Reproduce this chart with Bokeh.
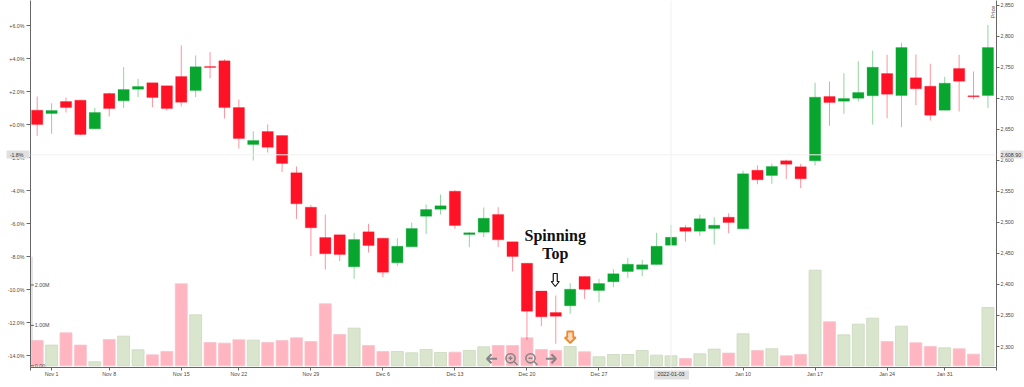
import math
from bokeh.embed import file_html
from bokeh.resources import INLINE
from bokeh.plotting import figure
from bokeh.models import ColumnDataSource, FixedTicker, Label, LinearAxis, Range1d, Span
from bokeh.core.properties import value

# --- data (price scale on the right, volume in millions) ---
opens = [2680.9,2675.5,2694.8,2697.0,2650.8,2707.7,2695.9,2714.7,2724.9,2720.1,2735.1,2712.5,2751.2,2760.3,2685.1,
         2625.5,2646.5,2640.0,2579.9,2524.5,2475.7,2480.0,2428.4,2484.8,2474.6,2434.9,2460.6,2510.0,2521.3,2550.3,
         2480.5,2484.3,2512.7,2468.7,2434.3,2389.5,2354.8,2365.6,2412.8,2390.3,2404.3,2420.9,2424.6,2432.2,2463.3,
         2491.8,2485.8,2490.2,2508.4,2489.7,2584.0,2575.6,2599.3,2589.6,2599.3,2702.9,2695.3,2700.1,2704.0,2739.9,
         2704.5,2733.0,2719.5,2680.8,2748.0,2704.0,2704.5]
closes = [2657.7,2680.3,2685.1,2641.6,2677.1,2683.5,2714.2,2719.0,2701.3,2683.5,2693.7,2750.7,2749.6,2685.1,2635.2,
          2632.0,2621.2,2594.9,2530.0,2491.3,2449.4,2448.3,2472.4,2462.8,2419.8,2461.7,2490.2,2520.8,2526.7,2495.0,
          2483.2,2506.8,2471.9,2445.1,2356.9,2347.9,2348.9,2392.4,2392.4,2401.5,2417.2,2432.6,2431.7,2461.6,2476.1,
          2485.8,2505.8,2495.5,2499.8,2578.3,2568.6,2590.1,2593.8,2570.3,2701.8,2693.2,2699.7,2709.3,2750.1,2706.6,
          2781.8,2715.3,2672.7,2724.3,2727.5,2702.4,2781.8]
highs = [2702.9,2692.1,2701.3,2697.0,2684.6,2709.3,2750.1,2731.4,2724.9,2720.1,2785.1,2769.0,2774.3,2763.0,2698.0,
         2647.0,2657.8,2640.0,2590.1,2528.4,2512.7,2480.0,2483.2,2497.7,2474.6,2474.6,2499.8,2528.8,2545.0,2551.9,
         2484.3,2524.0,2524.6,2468.7,2434.3,2389.5,2382.2,2402.0,2412.8,2409.1,2424.6,2443.0,2439.7,2483.2,2496.1,
         2495.5,2512.7,2508.4,2514.8,2583.6,2591.7,2594.9,2600.9,2594.4,2725.0,2727.0,2740.4,2759.8,2777.0,2770.1,
         2789.4,2770.5,2755.6,2734.6,2770.1,2743.2,2818.4]
lows = [2639.5,2642.7,2677.1,2640.6,2650.8,2670.7,2684.1,2701.8,2685.7,2680.3,2686.8,2701.8,2732.4,2667.4,2619.1,
        2599.7,2612.6,2581.0,2505.8,2445.6,2424.1,2437.5,2409.1,2451.5,2411.8,2429.5,2460.6,2481.6,2512.7,2489.6,
        2460.1,2476.2,2460.1,2420.9,2310.8,2332.7,2304.4,2352.7,2376.9,2371.4,2395.6,2410.7,2413.3,2432.2,2463.3,
        2469.2,2478.4,2464.4,2482.6,2489.7,2561.6,2562.2,2570.3,2555.1,2591.7,2655.7,2675.0,2694.8,2657.8,2667.9,
        2653.4,2688.9,2664.2,2680.8,2678.7,2698.0,2684.0]
volumes = [0.627,0.512,0.817,0.512,0.099,0.652,0.734,0.396,0.272,0.355,2.03,1.262,0.578,0.561,0.644,0.635,0.578,
           0.627,0.693,0.602,1.535,0.776,0.932,0.503,0.355,0.355,0.322,0.404,0.33,0.338,0.38,0.47,0.503,0.503,
           0.693,0.404,0.38,0.479,0.347,0.223,0.28,0.28,0.38,0.264,0.248,0.182,0.297,0.413,0.314,0.792,0.38,0.421,
           0.248,0.281,2.368,1.089,0.767,1.031,1.18,0.602,0.982,0.569,0.479,0.446,0.421,0.289,1.444]
date_ticks = [1, 5, 10, 14, 19, 24, 29, 34, 39, 49, 54, 59, 63]
date_labels = ["Nov 1", "Nov 8", "Nov 15", "Nov 22", "Nov 29", "Dec 6", "Dec 13", "Dec 20", "Dec 27",
               "Jan 10", "Jan 17", "Jan 24", "Jan 31"]
crosshair_index = 44
crosshair_date = "2022-01-03"
crosshair_price = 2608.9
crosshair_price_label = "2,608.90"
crosshair_pct = -1.818
crosshair_pct_label = "-1.8%"
price_ticks = [2300, 2350, 2400, 2450, 2500, 2550, 2600, 2650, 2700, 2750, 2800, 2850]
price_labels = ["2,300", "2,350", "2,400", "2,450", "2,500", "2,550", "2,600", "2,650", "2,700", "2,750", "2,800", "2,850"]
pct_ticks = [-14, -12, -10, -8, -6, -4, -2, 0, 2, 4, 6]
pct_labels = ["-14.0%", "-12.0%", "-10.0%", "-8.0%", "-6.0%", "-4.0%", "-2.0%", "+0.0%", "+2.0%", "+4.0%", "+6.0%"]
vol_ticks = [0, 1, 2]
vol_labels = ["0.00", "1.00M", "2.00M"]

RED, GREEN = "#fe1226", "#08a52f"
PINK, SAGE = "#ffb6c1", "#d9e5cd"
AXIS = "#666666"
TEXT = "#4a4a4a"
FONT = "Liberation Sans"
TICK_SIZE = "5.3px"
TAG = "#e0e0e0"

X0, X1 = -0.465, 66.595
p = figure(width=1024, height=387, output_backend="svg", toolbar_location=None,
           x_range=Range1d(X0, X1), y_range=Range1d(2266.2, 2857.57), y_axis_location="right",
           min_border_left=30, min_border_right=27, min_border_top=0, min_border_bottom=20,
           background_fill_color="white", border_fill_color="white", outline_line_color=None)
p.grid.visible = False
p.extra_y_ranges["pct"] = Range1d(-14.709, 7.533)
p.extra_y_ranges["vol"] = Range1d(-0.042, 9.042)
# overlay scales in reference page pixels, for the annotations only
p.extra_x_ranges["page"] = Range1d(30, 997)
p.extra_y_ranges["page"] = Range1d(367, 0)


def style_axis(ax):
    ax.axis_line_color = AXIS
    ax.major_tick_line_color = AXIS
    ax.minor_tick_line_color = None
    ax.major_tick_in = 0
    ax.major_tick_out = 4
    ax.major_label_text_font = FONT
    ax.major_label_text_font_size = TICK_SIZE
    ax.major_label_text_color = TEXT
    ax.major_label_standoff = 2


def tag_axis(ax, width, tick_in, tick_out, standoff):
    """The crosshair's value tag: an axis with a single, very thick tick as its box."""
    style_axis(ax)
    ax.axis_line_color = None
    ax.major_tick_line_color = TAG
    ax.major_tick_line_width = width
    ax.major_tick_in = tick_in
    ax.major_tick_out = tick_out
    ax.major_label_standoff = standoff
    ax.major_label_text_color = "#333333"


right = p.yaxis[0]
right.ticker = FixedTicker(ticks=price_ticks)
right.major_label_overrides = dict(zip(price_ticks, price_labels))
style_axis(right)
right.major_tick_out = 3
right.major_label_standoff = 1

left = LinearAxis(y_range_name="pct", ticker=FixedTicker(ticks=pct_ticks),
                  major_label_overrides=dict(zip(pct_ticks, pct_labels)))
style_axis(left)
p.add_layout(left, "left")

bottom = p.xaxis[0]
bottom.ticker = FixedTicker(ticks=[X0] + date_ticks + [X1])
bottom.major_label_overrides = {**dict(zip(date_ticks, date_labels)), X0: "", X1: ""}
style_axis(bottom)
bottom.major_tick_out = 3
bottom.major_label_standoff = 0

left_tag = LinearAxis(y_range_name="pct", ticker=FixedTicker(ticks=[crosshair_pct]),
                      major_label_overrides={crosshair_pct: crosshair_pct_label})
tag_axis(left_tag, 8, 25, -2, -19)
p.add_layout(left_tag, "left")

right_tag = LinearAxis(ticker=FixedTicker(ticks=[crosshair_price]),
                       major_label_overrides={crosshair_price: crosshair_price_label})
tag_axis(right_tag, 8, 16, 7, -23)
p.add_layout(right_tag, "right")

bottom_tag = LinearAxis(ticker=FixedTicker(ticks=[crosshair_index]),
                        major_label_overrides={crosshair_index: crosshair_date})
tag_axis(bottom_tag, 35, 9, 0, -8)
p.add_layout(bottom_tag, "below")

n = range(len(opens))
src = ColumnDataSource(dict(
    x=list(n), open=opens, close=closes, high=highs, low=lows, vol=volumes,
    body=[GREEN if c >= o else RED for o, c in zip(opens, closes)],
    bar=[SAGE if c >= o else PINK for o, c in zip(opens, closes)],
    edge=["#cbd8bd" if c >= o else "#f7c3cb" for o, c in zip(opens, closes)],
))

# crosshair
for dim, loc in (("width", crosshair_price), ("height", crosshair_index)):
    p.add_layout(Span(location=loc, dimension=dim, line_color="#f1f1f1", line_width=1))

# volume strip and bars
p.quad(left=[30], right=[32.5], bottom=[0], top=[2.7], x_range_name="page", y_range_name="vol",
       fill_color="#e4e4e4", line_color=None)
p.vbar(x="x", width=0.83, bottom=0, top="vol", source=src, y_range_name="vol",
       fill_color="bar", line_color="edge", line_width=0.8)

# candles
p.segment(x0="x", x1="x", y0="low", y1="high", source=src, line_color="body", line_alpha=0.45, line_width=1)
p.vbar(x="x", width=0.78, bottom="close", top="open", source=src, fill_color="body", line_color="body",
       line_alpha=0.35, line_width=0.8)

# inner volume axis
p.segment(x0=[29.5] * 3, x1=[33.5] * 3, y0=vol_ticks, y1=vol_ticks, x_range_name="page", y_range_name="vol",
          line_color=AXIS, line_width=1)
p.text(x=[34.3] * 3, y=vol_ticks, text=vol_labels, x_range_name="page", y_range_name="vol",
       text_font=value(FONT), text_font_size=value(TICK_SIZE), text_color=TEXT, text_baseline="middle")


def label(x, y, text, **kw):
    opts = dict(x_range_name="page", y_range_name="page", text_font=FONT, text_font_size=TICK_SIZE,
                text_color=TEXT, text_baseline="middle", text_align="center")
    opts.update(kw)
    p.add_layout(Label(x=x, y=y, text=text, **opts))


label(993, 11.5, "Price", angle=math.pi / 2, text_font_size="5.6px")

# annotation text
label(555.3, 235, "Spinning", text_font="Liberation Serif", text_font_style="bold", text_font_size="16px", text_color="#111111")
label(555.3, 253.3, "Top", text_font="Liberation Serif", text_font_style="bold", text_font_size="16px", text_color="#111111")


def down_arrow(cx, ytop, ybot, shaft, head, head_h, fill, line, lw):
    xs = [cx - shaft, cx + shaft, cx + shaft, cx + head, cx, cx - head, cx - shaft, cx - shaft]
    ys = [ytop, ytop, ybot - head_h, ybot - head_h, ybot, ybot - head_h, ybot - head_h, ytop]
    p.patch(xs, ys, x_range_name="page", y_range_name="page", fill_color=fill, line_color=line, line_width=lw)


down_arrow(555.3, 273, 286, 2, 4, 5, "white", "#111111", 1.2)
down_arrow(570.3, 331, 342.5, 3, 5.5, 5.5, "#fbd9bd", "#f08a30", 1.8)

# navigation icons
ICON = "#858585"
page = dict(x_range_name="page", y_range_name="page", line_color=ICON)
for cx, d in ((492, -1), (551, 1)):
    p.multi_line(xs=[[cx - 5, cx + 5], [cx + d * 0.5, cx + d * 5, cx + d * 0.5]], ys=[[358.3, 358.3], [353.8, 358.3, 362.8]],
                 line_width=2, **page)
for cx, plus in ((511, True), (531, False)):
    p.circle(x=[cx - 0.5], y=[357.8], radius=4.6, radius_units="data", fill_color=None, line_width=1.6, **page)
    segs_x = [[cx + 3, cx + 6.5], [cx - 2.5, cx + 1.5]] + ([[cx - 0.5, cx - 0.5]] if plus else [])
    segs_y = [[361, 364.5], [357.8, 357.8]] + ([[355.8, 359.8]] if plus else [])
    p.multi_line(xs=segs_x, ys=segs_y, line_width=1.5, **page)

open("out.html", "w").write(file_html(p, INLINE))
